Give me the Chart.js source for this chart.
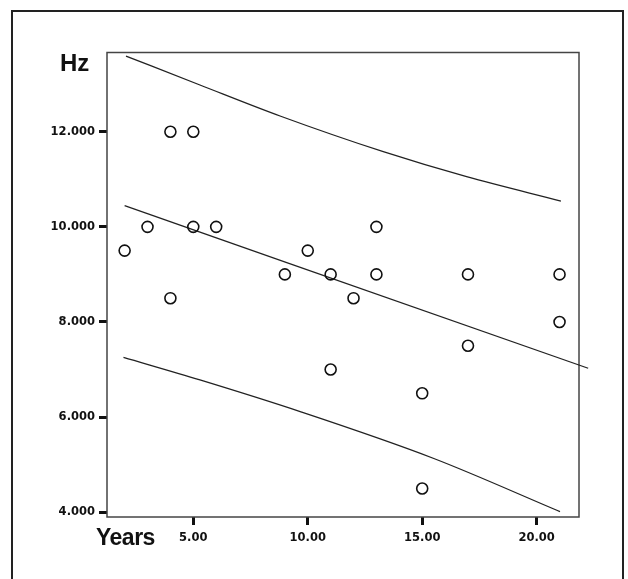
<!DOCTYPE html>
<html>
<head>
<meta charset="utf-8">
<script src="https://cdn.jsdelivr.net/npm/chart.js@4.4.1/dist/chart.umd.min.js"></script>
<style>
  html, body { margin: 0; padding: 0; background: #fff; overflow: hidden; }
  #wrap { position: relative; width: 628px; height: 579px; }
  #frame { position: absolute; left: 11px; top: 10px; width: 609px; height: 600px; border: 2px solid #222; border-bottom: none; }
  .lbl { position: absolute; font-family: 'Liberation Sans', Arial, sans-serif; font-weight: bold; color: #111; line-height: 1; white-space: nowrap; }
  #hz { left: 60px; top: 51px; font-size: 24px; }
  #years { left: 96px; top: 526px; font-size: 23px; letter-spacing: -0.5px; }
  canvas { position: absolute; left: 0; top: 0; }
</style>
</head>
<body>
<div id="wrap">
  <div id="frame"></div>
  <canvas id="chart" width="628" height="579"></canvas>
  <div class="lbl" id="hz">Hz</div>
  <div class="lbl" id="years">Years</div>
</div>
<script>
// observations: years of exposure vs. hearing frequency
const years = [2, 3, 4, 4, 5, 5, 6, 9, 10, 11, 11, 12, 13, 13, 15, 15, 17, 17, 21, 21];
const hz = [9500, 10000, 12000, 8500, 12000, 10000, 10000, 9000, 9500, 9000, 7000, 8500, 10000, 9000, 6500, 4500, 9000, 7500, 9000, 8000];

// regression line and prediction band
const fitX = [2, 22.25];
const fitY = [10445, 7027];
const upperX = [2.06, 5.29, 8.79, 13.3, 16.94, 21.06];
const upperY = [13591, 12982, 12330, 11580, 11054, 10543];
const lowerX = [1.95, 5.29, 9.67, 15.48, 21.02];
const lowerY = [7256, 6781, 6115, 5135, 4013];

// axes
const xTicks = [5, 10, 15, 20];
const xTickLabels = ['5.00', '10.00', '15.00', '20.00'];
const yTicks = [4000, 6000, 8000, 10000, 12000];
const yTickLabels = ['4.000', '6.000', '8.000', '10.000', '12.000'];

function pts(xs, ys) { return xs.map((x, i) => ({ x, y: ys[i] })); }
function line(xs, ys) {
  return { data: pts(xs, ys), showLine: true, pointRadius: 0, borderColor: '#222', borderWidth: 1.3, cubicInterpolationMode: 'monotone', clip: false, order: 2 };
}

const boxPlugin = {
  id: 'box',
  beforeDatasetsDraw(chart) {
    const a = chart.chartArea, ctx = chart.ctx;
    ctx.save();
    ctx.strokeStyle = '#444';
    ctx.lineWidth = 1.5;
    ctx.strokeRect(a.left, a.top, a.right - a.left, a.bottom - a.top);
    ctx.restore();
  }
};

const tickFont = { family: "'DejaVu Sans', sans-serif", size: 11.5, weight: 'bold' };

new Chart(document.getElementById('chart'), {
  type: 'scatter',
  data: {
    datasets: [
      { data: pts(years, hz), pointRadius: 5.5, pointBorderWidth: 1.6, pointBorderColor: '#111', pointBackgroundColor: 'rgba(255,255,255,0)', order: 1 },
      line(fitX, fitY),
      line(upperX, upperY),
      line(lowerX, lowerY)
    ]
  },
  options: {
    responsive: false,
    animation: false,
    layout: { padding: { left: 0, top: 52.5, right: 49, bottom: 0 } },
    plugins: { legend: { display: false }, tooltip: { enabled: false } },
    scales: {
      x: {
        type: 'linear', min: 1.23, max: 21.85,
        afterBuildTicks: s => { s.ticks = xTicks.map(v => ({ value: v })); },
        afterFit: s => { s.height = 62; },
        ticks: { callback: v => xTickLabels[xTicks.indexOf(v)], color: '#111', font: tickFont, padding: 6, maxRotation: 0 },
        grid: { drawOnChartArea: false, drawTicks: true, tickLength: 8, tickWidth: 3, tickColor: '#111' },
        border: { display: false }
      },
      y: {
        type: 'linear', min: 3900, max: 13665,
        afterBuildTicks: s => { s.ticks = yTicks.map(v => ({ value: v })); },
        afterFit: s => { s.width = 107; },
        ticks: { callback: v => yTickLabels[yTicks.indexOf(v)], color: '#111', font: tickFont, padding: 4 },
        grid: { drawOnChartArea: false, drawTicks: true, tickLength: 8, tickWidth: 3, tickColor: '#111' },
        border: { display: false }
      }
    }
  },
  plugins: [boxPlugin]
});
</script>
</body>
</html>
